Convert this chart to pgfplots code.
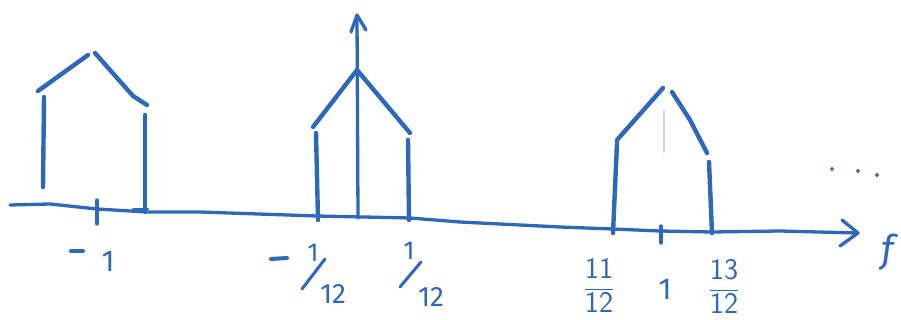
\documentclass[border=0pt]{standalone}
\usepackage{pgfplots}
\pgfplotsset{compat=1.18}
\usepackage{fontspec}
\setmainfont{Fira Sans}
\definecolor{ink}{RGB}{46,104,184}
\begin{document}
\begin{tikzpicture}
\begin{axis}[
  name=sketch,
  hide axis, scale only axis,
  width=901pt, height=320pt,
  xmin=0, xmax=901, ymin=0, ymax=320, y dir=reverse,
  clip=false,
  pen/.style={ink, line width=4.4pt, line cap=round, line join=round, mark=none},
  thinpen/.style={pen, line width=3.3pt},
]
% frequency axis (hand-drawn, slightly sloping) and its arrowhead
\addplot[thinpen] coordinates {(10,205)(50,204)(97,209)(147,212)(200,212)(317,216)(410,218)(460,222)(560,227)(613,229)(660,231)(712,232)(780,231)(857,233)};
\addplot[thinpen] coordinates {(842,220)(858,233)(840,246)};
% vertical arrow at f = 0
\addplot[thinpen] coordinates {(358,218)(357,17)};
\addplot[thinpen] coordinates {(351,32)(357,15)(366,30)};
% ticks at f = -1 and f = 1
\addplot[thinpen] coordinates {(97,200)(97,224)};
\addplot[thinpen] coordinates {(661,226)(661,243)};
% spectral copy around f = -1
\addplot[pen] coordinates {(43,187)(44,97)};
\addplot[pen] coordinates {(38,91)(88,55)};
\addplot[pen] coordinates {(95,53)(110,70)(133,96)(147,105)};
\addplot[pen] coordinates {(145,115)(145,212)};
\addplot[thinpen, line width=2.5pt] coordinates {(133,209)(148,209)};
% spectral copy around f = 0
\addplot[pen] coordinates {(316,133)(318,220)};
\addplot[pen] coordinates {(313,127)(357,70)};
\addplot[pen] coordinates {(357,70)(410,133)};
\addplot[pen] coordinates {(408,140)(409,220)};
% spectral copy around f = 1
\addplot[pen] coordinates {(617,143)(613,233)};
\addplot[pen] coordinates {(617,140)(663,88)};
\addplot[pen] coordinates {(672,92)(690,120)(707,153)};
\addplot[pen] coordinates {(709,162)(712,233)};
\addplot[pen, line width=1.2pt, ink!25] coordinates {(664,110)(664,152)};
% trailing dots
\addplot[only marks, mark=*, mark size=1.6pt, draw=none, fill=ink!70] coordinates {(832,169)(858,171)(877,175)};
% minus signs and slashes of the slanted fractions, drawn by pen
\addplot[pen, line width=4pt] coordinates {(71,251)(83,251)};
\addplot[pen, line width=4pt] coordinates {(271,259)(287,258)};
\addplot[thinpen, line width=3pt] coordinates {(302,289)(325,259)};
\addplot[thinpen, line width=3pt] coordinates {(400,287)(421,262)};
% labels
\begin{scope}[ink, font=\fontsize{30}{30}\selectfont, inner sep=0pt]
\node at (axis cs:108,261) {1};
\node[font=\fontsize{26}{26}\selectfont] at (axis cs:313,253) {1};
\node[font=\fontsize{28}{28}\selectfont] at (axis cs:333,294) {12};
\node[font=\fontsize{26}{26}\selectfont] at (axis cs:409,251) {1};
\node[font=\fontsize{28}{28}\selectfont] at (axis cs:431,297) {12};
\node at (axis cs:599,285) {$\displaystyle\frac{\mathsf{11}}{\mathsf{12}}$};
\node at (axis cs:665,289) {1};
\node at (axis cs:724,286) {$\displaystyle\frac{\mathsf{13}}{\mathsf{12}}$};
\node[font=\fontsize{38}{38}\selectfont\itshape] at (axis cs:888,252) {f};
\end{scope}
\end{axis}
% the page is exactly the drawing area
\pgfresetboundingbox
\path[use as bounding box] (sketch.south west) rectangle (sketch.north east);
\end{tikzpicture}
\end{document}
